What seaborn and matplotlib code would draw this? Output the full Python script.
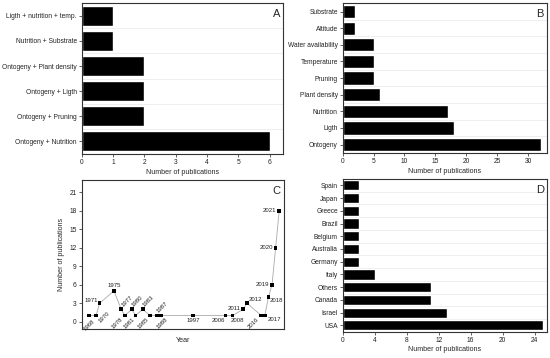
import numpy as np
import pandas as pd
import matplotlib
matplotlib.use('Agg')
import matplotlib.pyplot as plt
import seaborn as sns
from matplotlib.ticker import FixedLocator, MultipleLocator

# panel A: factor combinations
combo_labels = ['Ligth + nutrition + temp.', 'Nutrition + Substrate', 'Ontogeny + Plant density',
                'Ontogeny + Ligth', 'Ontogeny + Pruning', 'Ontogeny + Nutrition']
combo_counts = [1, 1, 2, 2, 2, 6]

# panel B: single factors
factor_labels = ['Substrate', 'Altitude', 'Water availability', 'Temperature', 'Pruning',
                 'Plant density', 'Nutrition', 'Ligth', 'Ontogeny']
factor_counts = [2, 2, 5, 5, 5, 6, 17, 18, 32]

# panel C: publications per year
years = [1968, 1970, 1971, 1975, 1977, 1978, 1980, 1981, 1983, 1985, 1987, 1988,
         1997, 2006, 2008, 2011, 2012, 2016, 2017, 2018, 2019, 2020, 2021]
year_counts = [1, 1, 3, 5, 2, 1, 2, 1, 2, 1, 1, 1, 1, 1, 1, 2, 3, 1, 1, 4, 6, 12, 18]

# panel D: countries
countries = ['Spain', 'Japan', 'Greece', 'Brazil', 'Belgium', 'Australia', 'Germany',
             'Italy', 'Others', 'Canada', 'Israel', 'USA']
country_counts = [2, 2, 2, 2, 2, 2, 2, 4, 11, 11, 13, 25]

# label placement for panel C: (dx, dy, rotation, ha, va)
label_style = {
    1968: (0, -2, 45, 'center', 'top'),
    1970: (1, -1, 45, 'left', 'center'),
    1971: (-1, 0, 0, 'right', 'bottom'),
    1975: (0, 2, 0, 'center', 'bottom'),
    1977: (0, 1, 45, 'left', 'bottom'),
    1978: (-1, -1, 45, 'right', 'top'),
    1980: (-1, 1, 45, 'left', 'bottom'),
    1981: (0, -1, 45, 'right', 'top'),
    1983: (-1, 1, 45, 'left', 'bottom'),
    1985: (0, -1, 45, 'right', 'top'),
    1987: (-1, 1, 45, 'left', 'bottom'),
    1988: (1, -1, 45, 'center', 'top'),
    1997: (0, -2, 0, 'center', 'top'),
    2006: (0, -2, 0, 'right', 'top'),
    2008: (-1, -2, 0, 'left', 'top'),
    2011: (-2, -1, 0, 'right', 'bottom'),
    2012: (1, 1, 0, 'left', 'bottom'),
    2016: (-1, -1, 45, 'right', 'top'),
    2017: (2, -1, 0, 'left', 'top'),
    2018: (1, -1, 0, 'left', 'top'),
    2019: (-2, 0, 0, 'right', 'center'),
    2020: (-2, 0, 0, 'right', 'center'),
    2021: (-2, 0, 0, 'right', 'center'),
}

sns.set_theme(style='white')
plt.rcParams['font.family'] = ['Liberation Sans', 'DejaVu Sans']
plt.rcParams['axes.edgecolor'] = '#333333'
plt.rcParams['axes.linewidth'] = 0.8

fig = plt.figure(figsize=(5.5, 3.58), dpi=100)
axA = fig.add_axes([0.1485, 0.570, 0.366, 0.421])
axB = fig.add_axes([0.623, 0.573, 0.371, 0.418])
axC = fig.add_axes([0.1485, 0.081, 0.367, 0.416])
axD = fig.add_axes([0.623, 0.0735, 0.371, 0.4265])

fs = 4.8


def style_bars(ax, n, xmax, step, letter):
    ax.set_xlim(0, xmax)
    ax.xaxis.set_major_locator(MultipleLocator(step))
    ax.yaxis.set_minor_locator(FixedLocator(np.arange(-0.5, n, 1.0)))
    ax.grid(which='minor', axis='y', color='#e8e8e8', linewidth=0.5)
    ax.set_axisbelow(True)
    ax.set_ylabel('')
    ax.set_xlabel('Number of publications', fontsize=fs + 0.3, labelpad=2)
    ax.tick_params(axis='both', which='major', labelsize=fs, length=2, width=0.5,
                   pad=1.5, colors='#222222', bottom=True, left=True)
    ax.tick_params(axis='y', which='minor', length=0)
    for s in ax.spines.values():
        s.set_visible(True)
    ax.text(0.985, 0.96, letter, transform=ax.transAxes, ha='right', va='top',
            fontsize=8)


dfA = pd.DataFrame({'label': combo_labels, 'n': combo_counts})
sns.barplot(data=dfA, x='n', y='label', color='black', width=0.8, ax=axA)
style_bars(axA, len(combo_labels), 6.42, 1, 'A')

dfB = pd.DataFrame({'label': factor_labels, 'n': factor_counts})
sns.barplot(data=dfB, x='n', y='label', color='black', width=0.8, ax=axB)
style_bars(axB, len(factor_labels), 33, 5, 'B')

dfD = pd.DataFrame({'label': countries, 'n': country_counts})
sns.barplot(data=dfD, x='n', y='label', color='black', width=0.8, ax=axD)
style_bars(axD, len(countries), 25.5, 4, 'D')

dfC = pd.DataFrame({'year': years, 'n': year_counts})
sns.lineplot(data=dfC, x='year', y='n', color='#aaaaaa', linewidth=0.6, ax=axC)
sns.scatterplot(data=dfC, x='year', y='n', color='black', marker='s', s=7,
                edgecolor='none', ax=axC, zorder=3)
for yr, cnt in zip(years, year_counts):
    dx, dy, rot, ha, va = label_style[yr]
    axC.annotate(str(yr), (yr, cnt), xytext=(dx, dy), textcoords='offset points',
                 rotation=rot, ha=ha, va=va, fontsize=fs - 0.5, color='#222222')
axC.set_xlim(1966, 2022.2)
axC.set_ylim(-1.2, 23)
axC.yaxis.set_major_locator(MultipleLocator(3))
axC.set_xticks([])
axC.set_xlabel('Year', fontsize=fs + 0.3, labelpad=6)
axC.set_ylabel('Number of publications', fontsize=fs + 0.3, labelpad=3)
axC.tick_params(axis='y', labelsize=fs, length=2, width=0.5, pad=1.5, colors='#222222', left=True)
for s in axC.spines.values():
    s.set_visible(True)
axC.text(0.985, 0.96, 'C', transform=axC.transAxes, ha='right', va='top', fontsize=8)

fig.savefig('out.png', dpi=100)
